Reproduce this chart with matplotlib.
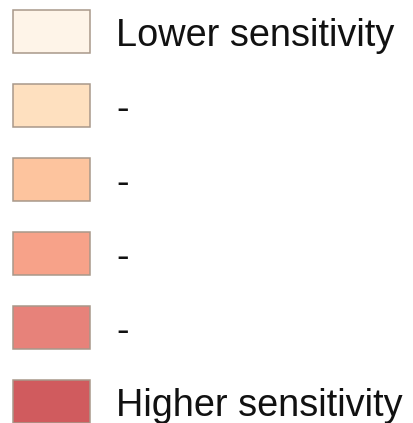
import matplotlib.pyplot as plt
import numpy as np

# legend classes, top to bottom
labels = ["Lower sensitivity", "-", "-", "-", "-", "Higher sensitivity"]
colors = ["#FEF4E8", "#FEE0BF", "#FDC49E", "#F7A289", "#E7827A", "#D05B5E"]

W, H = 413, 423
fig = plt.figure(figsize=(W / 100, H / 100), dpi=100)
ax = fig.add_axes([0, 0, 1, 1])
ax.set_xlim(0, W)
ax.set_ylim(H, 0)
ax.axis('off')

ypos = 31.5 + 74.1 * np.arange(len(labels))
ax.barh(ypos, 77, left=13, height=43, color=colors,
        edgecolor="#A8988A", linewidth=1.1)

for y, lab in zip(ypos, labels):
    ax.text(116, y + 14, lab, fontsize=27.3, family="Liberation Sans",
            color="#111111", va="baseline", ha="left")

plt.savefig("out.png", dpi=100)
plt.close()
